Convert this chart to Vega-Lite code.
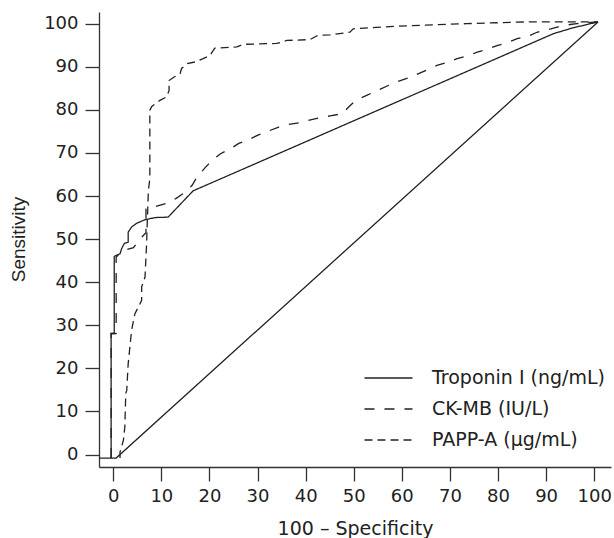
{
  "$schema": "https://vega.github.io/schema/vega-lite/v6.json",
  "width": 512,
  "height": 455,
  "autosize": {"type": "none"},
  "padding": {"left": 99, "top": 12, "right": 3, "bottom": 71},
  "config": {
    "view": {"stroke": null},
    "font": "DejaVu Sans",
    "axis": {
      "grid": false,
      "domainColor": "#333",
      "domainWidth": 1.3,
      "tickColor": "#333",
      "tickWidth": 1.3,
      "tickSize": 14,
      "labelFontSize": 18,
      "labelColor": "#222",
      "titleFontSize": 19,
      "titleFontWeight": "normal",
      "titleColor": "#222"
    }
  },
  "layer": [
    {
      "data": {"values": [
        {"x": -2.9, "y": -0.8},
        {"x": 0.6, "y": -0.8},
        {"x": 100.8, "y": 100.4}
      ]},
      "mark": {"type": "line", "color": "#222", "strokeWidth": 1.3},
      "encoding": {
        "x": {"field": "x", "type": "quantitative", "scale": {"domain": [-2.97, 103.5], "nice": false, "zero": false},
          "axis": {"values": [0,10,20,30,40,50,60,70,80,90,100], "title": "100 – Specificity", "labelPadding": 6, "titleY": 67, "titleBaseline": "alphabetic"}},
        "y": {"field": "y", "type": "quantitative", "scale": {"domain": [-2.88, 102.7], "nice": false, "zero": false},
          "axis": {"values": [0,10,20,30,40,50,60,70,80,90,100], "title": "Sensitivity", "titleFont": "Liberation Sans", "labelPadding": 7, "titleX": -81, "titleY": 227, "titleBaseline": "middle"}},
        "order": {"value": null}
      }
    },
    {
      "data": {"values": [
        {"series": "Troponin I (ng/mL)", "x": -0.45, "y": -0.8},
        {"series": "Troponin I (ng/mL)", "x": -0.45, "y": 28.1},
        {"series": "Troponin I (ng/mL)", "x": 0.2, "y": 28.1},
        {"series": "Troponin I (ng/mL)", "x": 0.2, "y": 46.0},
        {"series": "Troponin I (ng/mL)", "x": 1.4, "y": 46.6},
        {"series": "Troponin I (ng/mL)", "x": 1.75, "y": 47.8},
        {"series": "Troponin I (ng/mL)", "x": 2.3, "y": 49.0},
        {"series": "Troponin I (ng/mL)", "x": 3.1, "y": 49.3},
        {"series": "Troponin I (ng/mL)", "x": 3.1, "y": 51.6},
        {"series": "Troponin I (ng/mL)", "x": 3.8, "y": 52.8},
        {"series": "Troponin I (ng/mL)", "x": 4.9, "y": 53.7},
        {"series": "Troponin I (ng/mL)", "x": 6.6, "y": 54.5},
        {"series": "Troponin I (ng/mL)", "x": 8.7, "y": 55.0},
        {"series": "Troponin I (ng/mL)", "x": 11.4, "y": 55.1},
        {"series": "Troponin I (ng/mL)", "x": 16.6, "y": 61.2},
        {"series": "Troponin I (ng/mL)", "x": 91.6, "y": 97.7},
        {"series": "Troponin I (ng/mL)", "x": 95.5, "y": 99.0},
        {"series": "Troponin I (ng/mL)", "x": 100.8, "y": 100.4},

        {"series": "CK-MB (IU/L)", "x": -0.45, "y": -0.8},
        {"series": "CK-MB (IU/L)", "x": -0.45, "y": 28.1},
        {"series": "CK-MB (IU/L)", "x": 0.6, "y": 28.1},
        {"series": "CK-MB (IU/L)", "x": 0.6, "y": 45.8},
        {"series": "CK-MB (IU/L)", "x": 1.7, "y": 47.2},
        {"series": "CK-MB (IU/L)", "x": 4.2, "y": 48.0},
        {"series": "CK-MB (IU/L)", "x": 5.3, "y": 49.7},
        {"series": "CK-MB (IU/L)", "x": 6.8, "y": 51.5},
        {"series": "CK-MB (IU/L)", "x": 6.8, "y": 57.0},
        {"series": "CK-MB (IU/L)", "x": 8.8, "y": 57.6},
        {"series": "CK-MB (IU/L)", "x": 11.0, "y": 58.3},
        {"series": "CK-MB (IU/L)", "x": 13.0, "y": 59.4},
        {"series": "CK-MB (IU/L)", "x": 15.0, "y": 60.9},
        {"series": "CK-MB (IU/L)", "x": 16.4, "y": 62.5},
        {"series": "CK-MB (IU/L)", "x": 17.4, "y": 64.4},
        {"series": "CK-MB (IU/L)", "x": 19.2, "y": 66.7},
        {"series": "CK-MB (IU/L)", "x": 20.6, "y": 68.3},
        {"series": "CK-MB (IU/L)", "x": 22.3, "y": 69.8},
        {"series": "CK-MB (IU/L)", "x": 24.4, "y": 71.0},
        {"series": "CK-MB (IU/L)", "x": 26.1, "y": 72.2},
        {"series": "CK-MB (IU/L)", "x": 28.2, "y": 73.1},
        {"series": "CK-MB (IU/L)", "x": 30.2, "y": 74.2},
        {"series": "CK-MB (IU/L)", "x": 32.3, "y": 75.1},
        {"series": "CK-MB (IU/L)", "x": 34.4, "y": 76.0},
        {"series": "CK-MB (IU/L)", "x": 36.5, "y": 76.6},
        {"series": "CK-MB (IU/L)", "x": 38.6, "y": 77.0},
        {"series": "CK-MB (IU/L)", "x": 40.8, "y": 77.6},
        {"series": "CK-MB (IU/L)", "x": 43.1, "y": 78.2},
        {"series": "CK-MB (IU/L)", "x": 45.1, "y": 78.6},
        {"series": "CK-MB (IU/L)", "x": 47.6, "y": 79.1},
        {"series": "CK-MB (IU/L)", "x": 49.0, "y": 80.7},
        {"series": "CK-MB (IU/L)", "x": 50.4, "y": 82.2},
        {"series": "CK-MB (IU/L)", "x": 52.8, "y": 83.4},
        {"series": "CK-MB (IU/L)", "x": 54.9, "y": 84.5},
        {"series": "CK-MB (IU/L)", "x": 57.3, "y": 85.7},
        {"series": "CK-MB (IU/L)", "x": 59.0, "y": 86.5},
        {"series": "CK-MB (IU/L)", "x": 61.8, "y": 87.6},
        {"series": "CK-MB (IU/L)", "x": 63.5, "y": 88.4},
        {"series": "CK-MB (IU/L)", "x": 65.9, "y": 89.6},
        {"series": "CK-MB (IU/L)", "x": 67.3, "y": 90.3},
        {"series": "CK-MB (IU/L)", "x": 69.8, "y": 91.1},
        {"series": "CK-MB (IU/L)", "x": 71.5, "y": 91.9},
        {"series": "CK-MB (IU/L)", "x": 73.9, "y": 92.6},
        {"series": "CK-MB (IU/L)", "x": 75.7, "y": 93.4},
        {"series": "CK-MB (IU/L)", "x": 78.1, "y": 94.2},
        {"series": "CK-MB (IU/L)", "x": 79.8, "y": 94.9},
        {"series": "CK-MB (IU/L)", "x": 82.2, "y": 95.7},
        {"series": "CK-MB (IU/L)", "x": 84.0, "y": 96.5},
        {"series": "CK-MB (IU/L)", "x": 86.7, "y": 97.3},
        {"series": "CK-MB (IU/L)", "x": 88.1, "y": 98.0},
        {"series": "CK-MB (IU/L)", "x": 91.0, "y": 98.8},
        {"series": "CK-MB (IU/L)", "x": 92.3, "y": 99.2},
        {"series": "CK-MB (IU/L)", "x": 95.0, "y": 99.8},
        {"series": "CK-MB (IU/L)", "x": 96.4, "y": 100.0},
        {"series": "CK-MB (IU/L)", "x": 100.8, "y": 100.4},

        {"series": "PAPP-A (µg/mL)", "x": 1.4, "y": -0.8},
        {"series": "PAPP-A (µg/mL)", "x": 1.4, "y": 0.6},
        {"series": "PAPP-A (µg/mL)", "x": 2.1, "y": 3.3},
        {"series": "PAPP-A (µg/mL)", "x": 2.4, "y": 6.4},
        {"series": "PAPP-A (µg/mL)", "x": 2.6, "y": 14.2},
        {"series": "PAPP-A (µg/mL)", "x": 2.8, "y": 14.9},
        {"series": "PAPP-A (µg/mL)", "x": 3.1, "y": 21.1},
        {"series": "PAPP-A (µg/mL)", "x": 3.8, "y": 28.8},
        {"series": "PAPP-A (µg/mL)", "x": 4.5, "y": 32.7},
        {"series": "PAPP-A (µg/mL)", "x": 5.2, "y": 34.2},
        {"series": "PAPP-A (µg/mL)", "x": 5.9, "y": 35.8},
        {"series": "PAPP-A (µg/mL)", "x": 5.9, "y": 38.9},
        {"series": "PAPP-A (µg/mL)", "x": 6.6, "y": 41.2},
        {"series": "PAPP-A (µg/mL)", "x": 6.9, "y": 48.2},
        {"series": "PAPP-A (µg/mL)", "x": 7.3, "y": 61.3},
        {"series": "PAPP-A (µg/mL)", "x": 7.6, "y": 64.0},
        {"series": "PAPP-A (µg/mL)", "x": 7.6, "y": 79.9},
        {"series": "PAPP-A (µg/mL)", "x": 8.0, "y": 80.8},
        {"series": "PAPP-A (µg/mL)", "x": 9.7, "y": 82.2},
        {"series": "PAPP-A (µg/mL)", "x": 11.1, "y": 83.0},
        {"series": "PAPP-A (µg/mL)", "x": 11.6, "y": 84.5},
        {"series": "PAPP-A (µg/mL)", "x": 11.6, "y": 86.8},
        {"series": "PAPP-A (µg/mL)", "x": 12.5, "y": 87.5},
        {"series": "PAPP-A (µg/mL)", "x": 13.9, "y": 88.4},
        {"series": "PAPP-A (µg/mL)", "x": 14.2, "y": 89.6},
        {"series": "PAPP-A (µg/mL)", "x": 15.3, "y": 90.7},
        {"series": "PAPP-A (µg/mL)", "x": 17.0, "y": 91.1},
        {"series": "PAPP-A (µg/mL)", "x": 18.7, "y": 91.9},
        {"series": "PAPP-A (µg/mL)", "x": 20.1, "y": 92.6},
        {"series": "PAPP-A (µg/mL)", "x": 20.8, "y": 93.8},
        {"series": "PAPP-A (µg/mL)", "x": 21.1, "y": 94.3},
        {"series": "PAPP-A (µg/mL)", "x": 25.7, "y": 94.6},
        {"series": "PAPP-A (µg/mL)", "x": 27.0, "y": 95.2},
        {"series": "PAPP-A (µg/mL)", "x": 34.0, "y": 95.4},
        {"series": "PAPP-A (µg/mL)", "x": 36.1, "y": 96.1},
        {"series": "PAPP-A (µg/mL)", "x": 40.9, "y": 96.3},
        {"series": "PAPP-A (µg/mL)", "x": 42.6, "y": 97.3},
        {"series": "PAPP-A (µg/mL)", "x": 45.1, "y": 97.4},
        {"series": "PAPP-A (µg/mL)", "x": 49.2, "y": 98.0},
        {"series": "PAPP-A (µg/mL)", "x": 49.9, "y": 98.8},
        {"series": "PAPP-A (µg/mL)", "x": 58.9, "y": 99.4},
        {"series": "PAPP-A (µg/mL)", "x": 73.5, "y": 100.0},
        {"series": "PAPP-A (µg/mL)", "x": 85.9, "y": 100.4},
        {"series": "PAPP-A (µg/mL)", "x": 100.8, "y": 100.4}
      ]},
      "mark": {"type": "line", "color": "#222", "strokeWidth": 1.3},
      "encoding": {
        "x": {"field": "x", "type": "quantitative"},
        "y": {"field": "y", "type": "quantitative"},
        "strokeDash": {
          "field": "series",
          "type": "nominal",
          "scale": {"domain": ["Troponin I (ng/mL)", "CK-MB (IU/L)", "PAPP-A (µg/mL)"], "range": [[1, 0], [10, 10], [8, 5]]},
          "legend": {
            "orient": "none",
            "legendX": 278.5,
            "legendY": 355,
            "title": null,
            "symbolType": "M-2.4,0H2.4",
            "symbolSize": 400,
            "symbolStrokeWidth": 1.3,
            "symbolStrokeColor": "#222",
            "labelFontSize": 19,
            "labelColor": "#222",
            "labelOffset": 32.5,
            "labelLimit": 300,
            "rowPadding": 10
          }
        },
        "order": {"value": null}
      }
    }
  ]
}
